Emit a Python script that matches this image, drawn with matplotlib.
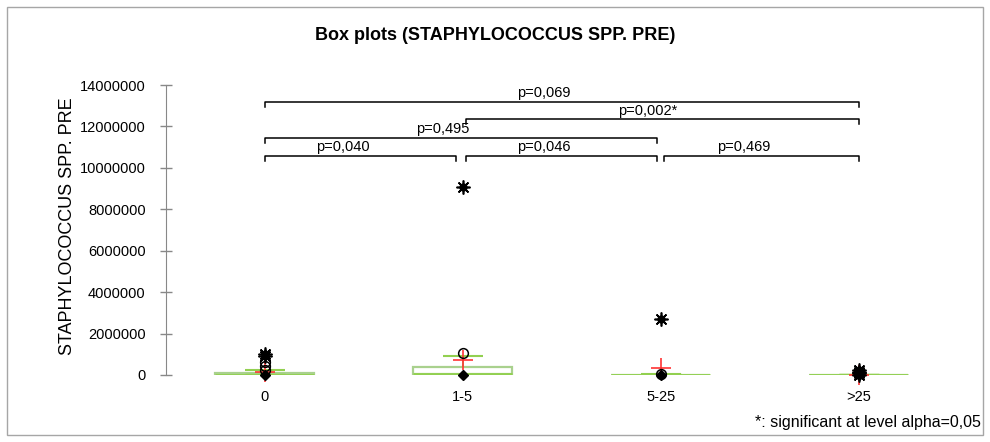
import matplotlib
matplotlib.use("Agg")
import matplotlib.pyplot as plt
from matplotlib.patches import Rectangle

plt.rcParams['font.family'] = ['Liberation Sans', 'DejaVu Sans']

categories = ['0', '1-5', '5-25', '>25']
q1 = [0, 50000, 0, 0]
medians = [20000, 60000, 5000, 0]
q3 = [80000, 400000, 20000, 10000]
whisk_lo = [0, 0, 0, 0]
whisk_hi = [220000, 930000, 30000, 20000]
means = [130000, 740000, 350000, 20000]
minima = [0, 0, 0, 0]
mild_outliers = [[650000, 450000, 250000], [1060000], [40000], []]
extreme_outliers = [[1000000, 920000], [9100000], [2720000], [250000, 160000, 80000, 20000]]

pairs = [(0, 3), (1, 3), (0, 2), (0, 1), (1, 2), (2, 3)]
pvalues = ['p=0,069', 'p=0,002*', 'p=0,495', 'p=0,040', 'p=0,046', 'p=0,469']
bracket_levels = [13200000, 12340000, 11460000, 10570000, 10570000, 10570000]
yticks = [0, 2000000, 4000000, 6000000, 8000000, 10000000, 12000000, 14000000]

W, H = 990, 442
fig = plt.figure(figsize=(W / 100, H / 100), dpi=100)
ax = fig.add_axes([165.7 / W, (H - 375) / H, 792 / W, 290 / H])

box_green = '#A9D18E'
dark_green = '#92D050'

x = list(range(len(categories)))
ax.bar(x, [b - a for a, b in zip(q1, q3)], bottom=q1, width=0.5,
       facecolor='white', edgecolor=box_green, linewidth=1.6, zorder=2)
for i in x:
    ax.vlines(i, q3[i], whisk_hi[i], color=dark_green, lw=1.2, zorder=2)
    ax.vlines(i, whisk_lo[i], q1[i], color=dark_green, lw=1.2, zorder=2)
    ax.hlines([whisk_hi[i]], i - 0.1, i + 0.1, color=dark_green, lw=1.5, zorder=2)
    ax.hlines([whisk_lo[i]], i - 0.1, i + 0.1, color=dark_green, lw=2.5, zorder=2)
    ax.hlines([medians[i]], i - 0.25, i + 0.25, color=dark_green, lw=2, zorder=2)

ax.plot(x, means, linestyle='none', marker='+', ms=15, mew=1.2, color='#FF3333',
        zorder=4, clip_on=False)
ax.plot(x, minima, linestyle='none', marker='D', ms=5.5, color='black', zorder=5, clip_on=False)
for i in x:
    if mild_outliers[i]:
        ax.plot([i] * len(mild_outliers[i]), mild_outliers[i], linestyle='none', marker='o',
                ms=7, mfc='none', mec='black', mew=1.1, zorder=5, clip_on=False)
    if extreme_outliers[i]:
        ax.plot([i] * len(extreme_outliers[i]), extreme_outliers[i], linestyle='none',
                marker=(8, 2, 0), ms=10, mew=1.2, color='black', zorder=6, clip_on=False)
        ax.plot([i] * len(extreme_outliers[i]), extreme_outliers[i], linestyle='none',
                marker='o', ms=5, color='black', zorder=6, clip_on=False)

drop = 240000
for (a, b), txt, lvl in zip(pairs, pvalues, bracket_levels):
    xa = a + (0.017 if a > 0 else 0.0)
    xb = b - (0.034 if b == 1 else 0.017 if b < 3 else 0.0)
    ax.plot([xa, xa, xb, xb], [lvl - drop, lvl, lvl, lvl - drop], color='black', lw=1.1,
            clip_on=False, zorder=3)
    mid = (xa + xb) / 2
    ax.text(mid - 0.225, lvl + 90000, txt, ha='left', va='bottom', fontsize=10.5,
            color='black')

ax.set_xlim(-0.5, 3.5)
ax.set_ylim(0, 14000000)
ax.set_yticks(yticks)
ax.set_yticklabels([str(v) for v in yticks])
ax.set_xticks(x)
ax.set_xticklabels(categories)
ax.tick_params(axis='x', length=0, pad=11, labelsize=10.5, colors='black')
ax.tick_params(axis='y', direction='inout', length=9, width=1, color='#888888',
               pad=10, labelsize=10.5, labelcolor='black')
for s in ['top', 'right', 'bottom']:
    ax.spines[s].set_visible(False)
ax.spines['left'].set_color('#888888')
ax.patch.set_alpha(0)

fig.text(0.5, 1 - 35 / H, 'Box plots (STAPHYLOCOCCUS SPP. PRE)', ha='center', va='center',
         fontsize=13, fontweight='bold')
fig.text(67 / W, 1 - 226 / H, 'STAPHYLOCOCCUS SPP. PRE', rotation=90, ha='center',
         va='center', fontsize=13)
fig.text(981 / W, 1 - 423 / H, '*: significant at level alpha=0,05', ha='right',
         va='center', fontsize=11.5)
fig.patches.append(Rectangle((7 / W, 7 / H), 976 / W, 428 / H, transform=fig.transFigure,
                             fill=False, edgecolor='#A6A6A6', lw=1))

fig.savefig('out.png', dpi=100)
